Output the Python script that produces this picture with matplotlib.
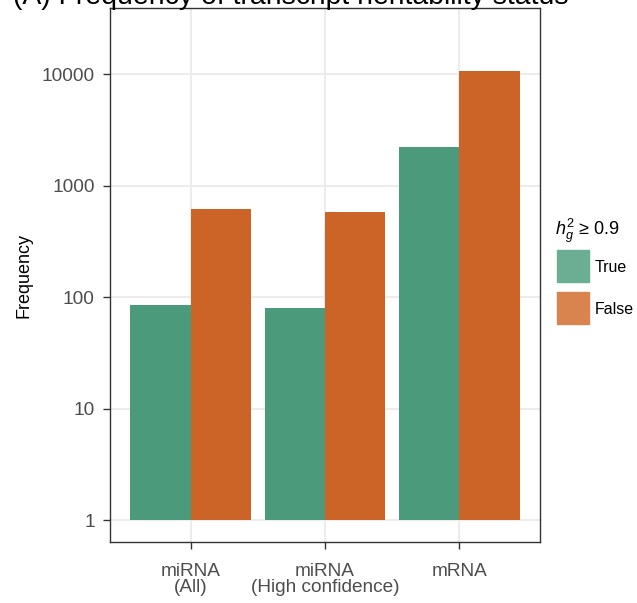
# Frequency of transcript heritability status, log-scale dodged bars
import numpy as np
import matplotlib
matplotlib.use("Agg")
import matplotlib.pyplot as plt
from matplotlib.patches import Rectangle

categories = ["miRNA\n(All)", "miRNA\n(High confidence)", "mRNA"]
true_counts = [85, 79, 2200]
false_counts = [615, 580, 10700]
series_labels = ["True", "False"]
yticks = [1, 10, 100, 1000, 10000]

plt.rcParams["font.family"] = ["Liberation Sans", "DejaVu Sans"]
plt.rcParams["mathtext.fontset"] = "custom"
plt.rcParams["mathtext.rm"] = "Liberation Sans"
plt.rcParams["mathtext.it"] = "Liberation Sans:italic"

W, H = 637, 603
fig = plt.figure(figsize=(W / 100, H / 100), dpi=100)

def px(x0, y0, x1, y1):
    return [x0 / W, 1 - y1 / H, (x1 - x0) / W, (y1 - y0) / H]

ax = fig.add_axes(px(110, 8, 540, 542))

green = "#4B9A7B"
orange = "#CB6426"
x = np.arange(1, len(categories) + 1)
w = 0.45
ax.bar(x - w / 2, [v - 1 for v in true_counts], width=w, bottom=1, color=green, zorder=3)
ax.bar(x + w / 2, [v - 1 for v in false_counts], width=w, bottom=1, color=orange, zorder=3)

ax.set_yscale("log")
ax.set_ylim(10 ** -0.197, 10 ** 4.592)
ax.set_xlim(0.4, 3.6)
ax.set_yticks(yticks)
ax.set_yticklabels([str(t) for t in yticks])
ax.yaxis.set_minor_locator(matplotlib.ticker.NullLocator())
ax.set_xticks(x)
ax.set_xticklabels(categories, linespacing=0.95)

ax.grid(True, color="#EBEBEB", lw=1.3, zorder=0)
for s in ax.spines.values():
    s.set_color("#333333")
    s.set_linewidth(1.0)
ax.tick_params(axis="both", colors="#333333", length=5, width=1.0,
               labelsize=13.7, labelcolor="#4D4D4D")
ax.tick_params(axis="x", pad=10)
ax.tick_params(axis="y", pad=6)
ax.set_ylabel("Frequency", fontsize=13, color="black")
ax.yaxis.set_label_coords(-0.18, 0.5)

# title (clipped at top in the reference)
fig.text(13 / W, 1 - 4 / H, "(A) Frequency of transcript heritability status",
         fontsize=20.4, ha="left", va="baseline", color="black")

# legend
fig.text(555 / W, 1 - 231 / H, r"$h_g^2$" + " \u2265 0.9", fontsize=13,
         ha="left", va="center")
leg_colors = ["#6AAE93", "#D9844F"]
for i, (lab, c) in enumerate(zip(series_labels, leg_colors)):
    y0 = 250 + i * 42
    fig.add_artist(Rectangle((557 / W, 1 - (y0 + 32) / H), 32 / W, 32 / H,
                             transform=fig.transFigure, color=c))
    fig.text(595 / W, 1 - (y0 + 17) / H, lab, fontsize=11.5, ha="left", va="center")

fig.savefig("out.png", dpi=100)
